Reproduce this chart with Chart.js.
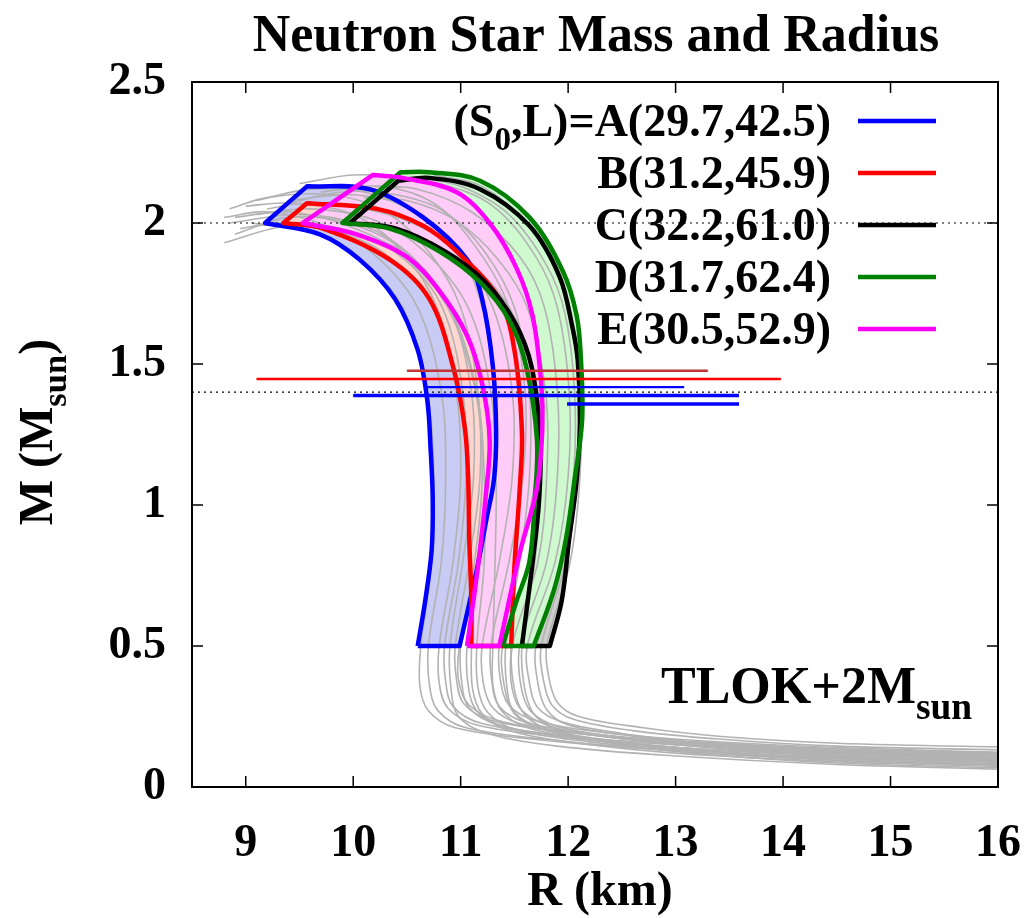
<!DOCTYPE html>
<html>
<head>
<meta charset="utf-8">
<title>Neutron Star Mass and Radius</title>
<script src="https://cdn.jsdelivr.net/npm/chart.js@4.4.1/dist/chart.umd.min.js"></script>
<style>
  html, body { margin: 0; padding: 0; background: #fff; }
  canvas { display: block; }
</style>
</head>
<body>
<canvas id="mr" width="1033" height="918"></canvas>
<script>
// axes
const xTicks = [9, 10, 11, 12, 13, 14, 15, 16];
const yTicks = [0, 0.5, 1, 1.5, 2, 2.5];

// models (S0, L)
const modelLabels = ['A(29.7,42.5)', 'B(31.2,45.9)', 'C(32.2,61.0)', 'D(31.7,62.4)', 'E(30.5,52.9)'];

// band outlines, R (km) and M (Msun); corners listed twice so they stay sharp
const aR = [10.60, 10.60, 10.67, 10.73, 10.74, 10.72, 10.69, 10.60, 10.39, 10.06, 9.69, 9.18, 9.18, 9.57, 9.57, 10.15, 10.65, 11.06, 11.20, 11.30, 11.33, 11.31, 11.24, 11.15, 10.99, 10.99, 10.60, 10.60];
const aM = [0.50, 0.50, 0.66, 0.84, 1.02, 1.20, 1.37, 1.55, 1.73, 1.87, 1.96, 2.00, 2.00, 2.13, 2.13, 2.12, 2.02, 1.87, 1.73, 1.49, 1.26, 1.09, 0.95, 0.77, 0.50, 0.50, 0.50, 0.50];

const bR = [11.10, 11.10, 11.10, 11.08, 11.07, 11.04, 10.93, 10.71, 10.34, 9.72, 9.35, 9.35, 9.57, 9.57, 10.22, 10.65, 10.96, 11.36, 11.50, 11.57, 11.55, 11.50, 11.47, 11.47, 11.10, 11.10];
const bM = [0.50, 0.50, 0.66, 0.88, 1.09, 1.27, 1.49, 1.73, 1.87, 1.98, 2.00, 2.00, 2.07, 2.07, 2.05, 1.99, 1.90, 1.73, 1.55, 1.26, 1.06, 0.78, 0.50, 0.50, 0.50, 0.50];

const cR = [11.57, 11.57, 11.67, 11.73, 11.74, 11.66, 11.50, 11.23, 10.85, 10.40, 9.97, 9.97, 10.42, 10.42, 10.71, 11.18, 11.64, 11.92, 12.04, 12.09, 12.11, 12.08, 12.01, 11.94, 11.83, 11.83, 11.57, 11.57];
const cM = [0.50, 0.50, 0.80, 1.02, 1.23, 1.49, 1.65, 1.79, 1.90, 1.98, 2.00, 2.00, 2.15, 2.15, 2.16, 2.12, 1.99, 1.81, 1.63, 1.51, 1.30, 1.09, 0.88, 0.66, 0.50, 0.50, 0.50, 0.50];

const dR = [11.39, 11.39, 11.52, 11.64, 11.69, 11.71, 11.61, 11.46, 11.18, 10.80, 10.34, 9.90, 9.90, 10.44, 10.44, 10.71, 11.18, 11.64, 11.95, 12.08, 12.12, 12.13, 12.06, 11.98, 11.87, 11.68, 11.68, 11.39, 11.39];
const dM = [0.50, 0.50, 0.66, 0.80, 1.02, 1.23, 1.49, 1.65, 1.79, 1.90, 1.98, 2.00, 2.00, 2.18, 2.18, 2.18, 2.15, 2.02, 1.83, 1.67, 1.51, 1.30, 1.09, 0.88, 0.70, 0.50, 0.50, 0.50, 0.50];

const eR = [11.06, 11.06, 11.16, 11.23, 11.27, 11.20, 11.06, 10.80, 10.50, 10.03, 9.53, 9.53, 10.18, 10.18, 10.46, 10.96, 11.27, 11.52, 11.67, 11.75, 11.76, 11.71, 11.55, 11.36, 11.36, 11.06, 11.06];
const eM = [0.50, 0.50, 0.78, 1.02, 1.23, 1.43, 1.60, 1.76, 1.88, 1.96, 2.00, 2.00, 2.17, 2.17, 2.16, 2.11, 2.00, 1.84, 1.67, 1.43, 1.27, 1.06, 0.83, 0.50, 0.50, 0.50, 0.50];

// individual M-R curves (gray)
const grayR = [
  [16.3, 14.5, 13.0, 11.8, 10.95, 10.70, 10.62, 10.63, 10.73, 10.75, 10.69, 10.46, 10.05, 9.60, 9.05],
  [16.3, 14.5, 13.0, 12.0, 11.15, 10.88, 10.80, 10.80, 10.93, 11.00, 10.96, 10.78, 10.45, 10.0, 9.4, 9.0],
  [16.3, 14.5, 13.0, 12.2, 11.40, 11.08, 10.98, 10.99, 11.16, 11.30, 11.31, 11.20, 10.98, 10.6, 10.1, 9.6, 9.1],
  [16.3, 14.5, 13.0, 12.1, 11.45, 11.20, 11.11, 11.10, 11.09, 11.07, 10.99, 10.74, 10.30, 9.75, 9.3, 8.95],
  [16.3, 14.5, 13.0, 12.2, 11.62, 11.38, 11.30, 11.30, 11.32, 11.33, 11.28, 11.07, 10.66, 10.2, 9.6, 9.1],
  [16.3, 14.5, 13.2, 12.3, 11.80, 11.55, 11.47, 11.47, 11.51, 11.56, 11.55, 11.38, 10.98, 10.55, 10.1, 9.55, 9.2],
  [16.3, 14.5, 13.0, 12.0, 11.40, 11.15, 11.07, 11.06, 11.17, 11.26, 11.21, 10.92, 10.45, 10.03, 9.53, 9.1],
  [16.3, 14.5, 13.2, 12.2, 11.55, 11.30, 11.21, 11.20, 11.36, 11.48, 11.48, 11.30, 10.95, 10.55, 10.0, 9.4],
  [16.3, 14.5, 13.2, 12.3, 11.70, 11.45, 11.37, 11.36, 11.54, 11.70, 11.76, 11.66, 11.52, 11.27, 10.96, 10.46, 10.0, 9.5],
  [16.3, 14.5, 13.2, 12.4, 11.75, 11.50, 11.41, 11.39, 11.64, 11.70, 11.68, 11.46, 11.18, 10.80, 10.34, 9.90],
  [16.3, 14.5, 13.3, 12.5, 11.90, 11.65, 11.56, 11.55, 11.80, 11.90, 11.90, 11.78, 11.55, 11.1, 10.6, 10.2],
  [16.3, 14.5, 13.4, 12.6, 12.05, 11.85, 11.77, 11.75, 11.98, 12.09, 12.11, 12.04, 11.92, 11.64, 11.18, 10.71, 10.45],
  [16.3, 14.5, 13.3, 12.5, 11.95, 11.70, 11.60, 11.57, 11.69, 11.75, 11.72, 11.52, 11.25, 10.88, 10.42, 10.0],
  [16.3, 14.5, 13.0, 11.9, 11.25, 10.98, 10.91, 10.90, 11.02, 11.12, 11.10, 10.90, 10.55, 10.1, 9.5, 8.85],
  [16.3, 14.5, 13.0, 12.0, 11.35, 11.08, 11.01, 11.00, 11.13, 11.20, 11.14, 10.88, 10.45, 9.95, 9.4, 8.9],
  [16.3, 14.5, 13.3, 12.5, 11.95, 11.72, 11.64, 11.62, 11.88, 12.00, 12.01, 11.90, 11.70, 11.30, 10.8, 10.4],
  [16.3, 14.5, 13.2, 12.4, 11.85, 11.60, 11.50, 11.48, 11.72, 11.80, 11.79, 11.62, 11.35, 10.95, 10.5, 10.1],
  [16.3, 14.5, 13.4, 12.6, 12.00, 11.80, 11.72, 11.70, 11.93, 12.05, 12.06, 11.97, 11.80, 11.45, 11.0, 10.6],
  [16.3, 14.5, 13.2, 12.2, 11.60, 11.36, 11.29, 11.28, 11.45, 11.58, 11.60, 11.45, 11.15, 10.75, 10.25, 9.7],
  [16.3, 14.5, 13.0, 11.9, 11.05, 10.79, 10.71, 10.70, 10.82, 10.86, 10.82, 10.60, 10.22, 9.75, 9.2, 8.8],
  [16.3, 14.5, 13.0, 12.1, 11.30, 11.03, 10.96, 10.95, 11.08, 11.18, 11.16, 11.00, 10.70, 10.3, 9.8, 9.2, 8.85],
  [16.3, 14.5, 13.1, 12.2, 11.50, 11.25, 11.16, 11.15, 11.22, 11.22, 11.15, 10.90, 10.48, 9.95, 9.4, 8.9],
  [16.3, 14.5, 13.4, 12.7, 12.10, 11.90, 11.82, 11.80, 12.02, 12.11, 12.12, 12.05, 11.93, 11.66, 11.2, 10.75],
  [16.3, 14.5, 13.0, 12.0, 11.20, 10.93, 10.86, 10.85, 10.98, 11.05, 11.02, 10.83, 10.48, 10.0, 9.4, 8.8],
  [16.3, 14.5, 13.2, 12.3, 11.75, 11.50, 11.43, 11.42, 11.55, 11.64, 11.64, 11.50, 11.22, 10.85, 10.4, 9.9, 9.4]
];
const grayM = [
  [0.078, 0.100, 0.128, 0.165, 0.21, 0.27, 0.36, 0.50, 0.80, 1.10, 1.40, 1.70, 1.88, 1.97, 2.00],
  [0.095, 0.115, 0.14, 0.175, 0.22, 0.28, 0.37, 0.50, 0.80, 1.10, 1.40, 1.70, 1.90, 2.03, 2.07, 2.06],
  [0.11, 0.13, 0.155, 0.185, 0.23, 0.29, 0.38, 0.50, 0.80, 1.10, 1.40, 1.70, 1.90, 2.03, 2.11, 2.12, 2.08],
  [0.07, 0.09, 0.12, 0.155, 0.20, 0.26, 0.35, 0.50, 0.80, 1.10, 1.40, 1.70, 1.89, 1.98, 2.00, 1.98],
  [0.085, 0.105, 0.135, 0.17, 0.21, 0.27, 0.36, 0.50, 0.80, 1.10, 1.40, 1.70, 1.90, 2.01, 2.05, 2.03],
  [0.10, 0.12, 0.145, 0.18, 0.22, 0.28, 0.37, 0.50, 0.80, 1.10, 1.40, 1.70, 1.90, 2.00, 2.05, 2.07, 2.05],
  [0.09, 0.11, 0.14, 0.175, 0.215, 0.27, 0.36, 0.50, 0.80, 1.10, 1.40, 1.70, 1.90, 1.96, 2.00, 1.99],
  [0.105, 0.125, 0.15, 0.185, 0.225, 0.28, 0.37, 0.50, 0.80, 1.10, 1.40, 1.70, 1.92, 2.05, 2.10, 2.08],
  [0.12, 0.14, 0.165, 0.195, 0.235, 0.29, 0.38, 0.50, 0.80, 1.10, 1.40, 1.70, 1.84, 2.00, 2.11, 2.16, 2.17, 2.14],
  [0.08, 0.10, 0.13, 0.16, 0.205, 0.26, 0.35, 0.50, 0.80, 1.10, 1.40, 1.65, 1.80, 1.90, 1.98, 2.00],
  [0.095, 0.115, 0.14, 0.175, 0.215, 0.27, 0.36, 0.50, 0.80, 1.10, 1.40, 1.70, 1.88, 2.04, 2.12, 2.13],
  [0.13, 0.145, 0.17, 0.20, 0.24, 0.29, 0.38, 0.50, 0.80, 1.10, 1.40, 1.63, 1.81, 1.99, 2.12, 2.16, 2.16],
  [0.065, 0.085, 0.115, 0.15, 0.195, 0.25, 0.34, 0.50, 0.80, 1.10, 1.40, 1.65, 1.80, 1.90, 1.98, 2.00],
  [0.06, 0.08, 0.11, 0.145, 0.19, 0.25, 0.35, 0.50, 0.80, 1.10, 1.40, 1.70, 1.88, 1.99, 2.03, 2.00],
  [0.10, 0.12, 0.15, 0.18, 0.22, 0.28, 0.37, 0.50, 0.80, 1.10, 1.40, 1.70, 1.89, 1.99, 2.04, 2.02],
  [0.115, 0.13, 0.155, 0.19, 0.23, 0.28, 0.37, 0.50, 0.80, 1.10, 1.40, 1.70, 1.88, 2.06, 2.14, 2.15],
  [0.075, 0.095, 0.125, 0.16, 0.20, 0.255, 0.345, 0.50, 0.80, 1.10, 1.40, 1.70, 1.87, 2.01, 2.08, 2.09],
  [0.10, 0.12, 0.145, 0.18, 0.22, 0.275, 0.365, 0.50, 0.80, 1.10, 1.40, 1.68, 1.85, 2.03, 2.13, 2.16],
  [0.115, 0.135, 0.16, 0.19, 0.23, 0.285, 0.375, 0.50, 0.80, 1.10, 1.40, 1.70, 1.91, 2.07, 2.13, 2.11],
  [0.085, 0.105, 0.13, 0.165, 0.21, 0.27, 0.36, 0.50, 0.80, 1.10, 1.40, 1.70, 1.88, 1.99, 2.04, 2.02],
  [0.12, 0.135, 0.16, 0.19, 0.235, 0.295, 0.385, 0.50, 0.80, 1.10, 1.40, 1.70, 1.90, 2.04, 2.10, 2.09, 2.05],
  [0.075, 0.095, 0.125, 0.16, 0.205, 0.265, 0.355, 0.50, 0.80, 1.10, 1.40, 1.70, 1.90, 2.00, 2.02, 1.96],
  [0.14, 0.155, 0.18, 0.21, 0.25, 0.30, 0.39, 0.50, 0.80, 1.10, 1.40, 1.62, 1.80, 1.98, 2.13, 2.17],
  [0.105, 0.125, 0.15, 0.18, 0.225, 0.285, 0.375, 0.50, 0.80, 1.10, 1.40, 1.70, 1.87, 1.97, 1.99, 1.93],
  [0.09, 0.11, 0.135, 0.17, 0.21, 0.265, 0.355, 0.50, 0.80, 1.10, 1.40, 1.70, 1.90, 2.04, 2.10, 2.11, 2.07]
];

// observational radius ranges near 1.4 Msun
const errLo = [10.50, 9.10, 10.68, 10.00, 11.99];
const errHi = [13.30, 13.98, 13.08, 13.59, 13.59];
const errM = [1.476, 1.447, 1.418, 1.388, 1.358];

// dotted reference masses
const refM = [2.0, 1.4];

const SERIF = '"Liberation Serif", "Times New Roman", serif';

function pts(R, M) {
  return R.map((r, i) => ({ x: r, y: M[i] }));
}

const bands = [
  { R: aR, M: aM, line: '#0000ff', fill: '#c8cbf4', lineOrder: 3.5, fillOrder: 12 },
  { R: bR, M: bM, line: '#ff0000', fill: '#ffd6d0', lineOrder: 3.4, fillOrder: 11 },
  { R: cR, M: cM, line: '#000000', fill: '#cdcdcd', lineOrder: 3.3, fillOrder: 14 },
  { R: dR, M: dM, line: '#008000', fill: '#cffad0', lineOrder: 3.2, fillOrder: 13 },
  { R: eR, M: eM, line: '#ff00ff', fill: '#ffcdf8', lineOrder: 3.1, fillOrder: 10 }
];

const datasets = [];

bands.forEach(b => {
  datasets.push({
    data: pts(b.R, b.M), showLine: true, pointRadius: 0, borderWidth: 0,
    borderColor: 'rgba(0,0,0,0)', backgroundColor: b.fill, fill: 'shape',
    tension: 0.35, order: b.fillOrder
  });
});

grayR.forEach((R, i) => {
  datasets.push({
    data: pts(R, grayM[i]), showLine: true, pointRadius: 0, borderWidth: 1.6,
    borderColor: '#b2b2b2', fill: false, tension: 0.35, clip: 0, order: 5
  });
});

refM.forEach(m => {
  datasets.push({
    data: [{ x: 8.5, y: m }, { x: 16, y: m }], showLine: true, pointRadius: 0,
    borderWidth: 1.2, borderColor: '#000', borderDash: [2, 4], fill: false, order: 4
  });
});

bands.forEach(b => {
  datasets.push({
    data: pts(b.R, b.M), showLine: true, pointRadius: 0, borderWidth: 4.5,
    borderColor: b.line, fill: false, tension: 0.35, order: b.lineOrder,
    borderJoinStyle: 'round'
  });
});

const errColors = ['#c03434', '#ff0000', '#0000ff', '#0000ff', '#0000ff'];
const errWidths = [2.5, 2.5, 2.2, 3.5, 3.5];
errM.forEach((m, i) => {
  datasets.push({
    data: [{ x: errLo[i], y: m }, { x: errHi[i], y: m }], showLine: true, pointRadius: 0,
    borderWidth: errWidths[i], borderColor: errColors[i], fill: false, order: 1
  });
});

// text with a subscript, returns total width
function subText(ctx, parts, x, y, size, align) {
  const widths = parts.map(p => {
    ctx.font = 'bold ' + (p.sub ? size * 0.72 : size) + 'px ' + SERIF;
    return ctx.measureText(p.t).width;
  });
  const total = widths.reduce((s, w) => s + w, 0);
  let cx = align === 'right' ? x - total : align === 'center' ? x - total / 2 : x;
  ctx.textAlign = 'left';
  ctx.textBaseline = 'alphabetic';
  parts.forEach((p, i) => {
    ctx.font = 'bold ' + (p.sub ? size * 0.72 : size) + 'px ' + SERIF;
    ctx.fillText(p.t, cx, y + (p.sub ? size * 0.3 : 0));
    cx += widths[i];
  });
  return total;
}

const decorPlugin = {
  id: 'decor',
  afterDraw(chart) {
    const ctx = chart.ctx;
    const area = chart.chartArea;
    const xs = chart.scales.x, ys = chart.scales.y;
    ctx.save();
    ctx.fillStyle = '#000';
    ctx.strokeStyle = '#000';

    // frame and inward ticks
    ctx.lineWidth = 2;
    ctx.strokeRect(area.left, area.top, area.right - area.left, area.bottom - area.top);
    ctx.lineWidth = 1.5;
    ctx.beginPath();
    xTicks.forEach(v => {
      const px = xs.getPixelForValue(v);
      ctx.moveTo(px, area.bottom); ctx.lineTo(px, area.bottom - 11);
      ctx.moveTo(px, area.top); ctx.lineTo(px, area.top + 11);
    });
    yTicks.forEach(v => {
      const py = ys.getPixelForValue(v);
      ctx.moveTo(area.left, py); ctx.lineTo(area.left + 11, py);
      ctx.moveTo(area.right, py); ctx.lineTo(area.right - 11, py);
    });
    ctx.stroke();

    // title and axis titles
    ctx.font = 'bold 52px ' + SERIF;
    ctx.textAlign = 'center';
    ctx.textBaseline = 'middle';
    ctx.fillText('Neutron Star Mass and Radius', 596, 38);
    ctx.font = 'bold 48px ' + SERIF;
    ctx.fillText('R (km)', 600, 893);

    ctx.save();
    ctx.translate(52, 432);
    ctx.rotate(-Math.PI / 2);
    subText(ctx, [{ t: 'M (M' }, { t: 'sun', sub: true }, { t: ')' }], 0, 0, 48, 'center');
    ctx.restore();

    // model annotation
    subText(ctx, [{ t: 'TLOK+2M' }, { t: 'sun', sub: true }], 661, 703, 52, 'left');

    // legend
    const rows = [121, 173, 225, 277, 329];
    rows.forEach((ry, i) => {
      const parts = i === 0
        ? [{ t: '(S' }, { t: '0', sub: true }, { t: ',L)=' + modelLabels[0] }]
        : [{ t: modelLabels[i] }];
      subText(ctx, parts, 831, ry + 15, 46, 'right');
      ctx.strokeStyle = bands[i].line;
      ctx.lineWidth = 4.5;
      ctx.beginPath();
      ctx.moveTo(858, ry);
      ctx.lineTo(936, ry);
      ctx.stroke();
    });
    ctx.restore();
  }
};

const tickFont = { family: SERIF, weight: 'bold', size: 46 };

new Chart(document.getElementById('mr').getContext('2d'), {
  type: 'scatter',
  data: { datasets: datasets },
  options: {
    responsive: false,
    animation: false,
    events: [],
    layout: { padding: { top: 82, right: 35, left: 0, bottom: 0 } },
    plugins: { legend: { display: false }, tooltip: { enabled: false } },
    scales: {
      x: {
        type: 'linear', min: 8.5, max: 16,
        afterBuildTicks: s => { s.ticks = xTicks.map(v => ({ value: v })); },
        afterFit: s => { s.height = 131; s.paddingLeft = 0; s.paddingRight = 0; },
        grid: { display: false, drawTicks: false },
        border: { display: false },
        ticks: { font: tickFont, color: '#000', padding: 30, maxRotation: 0, autoSkip: false }
      },
      y: {
        type: 'linear', min: 0, max: 2.5,
        afterBuildTicks: s => { s.ticks = yTicks.map(v => ({ value: v })); },
        afterFit: s => { s.width = 192; s.paddingTop = 0; s.paddingBottom = 0; },
        grid: { display: false, drawTicks: false },
        border: { display: false },
        ticks: { font: tickFont, color: '#000', padding: 26, autoSkip: false, callback: v => String(v) }
      }
    }
  },
  plugins: [decorPlugin]
});
</script>
</body>
</html>
